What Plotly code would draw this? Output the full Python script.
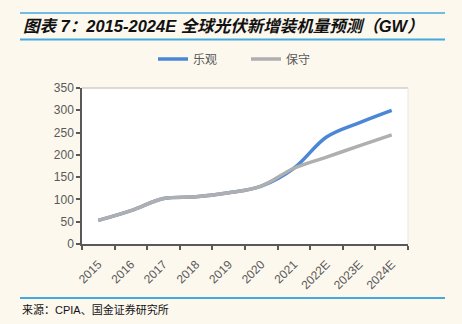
import plotly.graph_objects as go

years = ["2015", "2016", "2017", "2018", "2019", "2020", "2021", "2022E", "2023E", "2024E"]
optimistic = [53, 75, 102, 106, 115, 130, 170, 240, 272, 300]
conservative = [53, 75, 102, 106, 115, 130, 170, 195, 220, 245]

BG = "#FCF8EE"
AXIS = "#595959"
RULE = "#45A8DE"
FONT = "Liberation Sans, Noto Sans CJK SC, sans-serif"

fig = go.Figure()
fig.add_trace(go.Scatter(
    x=years, y=optimistic, name="乐观", mode="lines",
    line=dict(color="#4A87D6", width=3.5, shape="spline", smoothing=1.0),
))
fig.add_trace(go.Scatter(
    x=years, y=conservative, name="保守", mode="lines",
    line=dict(color="#AFAFAF", width=3.5, shape="spline", smoothing=1.0),
))

# plot-area pixel geometry (462x324 page)
L, R, T, B = 82, 408, 88, 244
W, H = R - L, B - T


def px(x):
    return (x - L) / W


def py(y):
    return (B - y) / H


shapes = [
    dict(type="line", xref="paper", yref="paper", x0=px(20), x1=px(445), y0=py(13), y1=py(13),
         line=dict(color=RULE, width=1.5)),
    dict(type="line", xref="paper", yref="paper", x0=px(20), x1=px(445), y0=py(39.5), y1=py(39.5),
         line=dict(color=RULE, width=2)),
    dict(type="line", xref="paper", yref="paper", x0=px(20), x1=px(445), y0=py(298), y1=py(298),
         line=dict(color=RULE, width=2)),
    dict(type="line", xref="paper", yref="paper", x0=0, x1=1, y0=1, y1=1,
         line=dict(color="#BDB8AE", width=1)),
    dict(type="line", xref="paper", yref="paper", x0=1, x1=1, y0=0, y1=1,
         line=dict(color="#E6E6E6", width=1)),
]

annotations = [
    dict(text="<b><i>图表 7：2015-2024E 全球光伏新增装机量预测（GW）</i></b>",
         xref="paper", yref="paper", x=px(21), y=py(26), xanchor="left", yanchor="middle",
         showarrow=False, font=dict(family=FONT, size=16.5, color="#111111")),
    dict(text="来源：CPIA、国金证券研究所",
         xref="paper", yref="paper", x=px(20), y=py(309), xanchor="left", yanchor="middle",
         showarrow=False, font=dict(family=FONT, size=11, color="#111111")),
]

fig.update_layout(
    width=462, height=324,
    margin=dict(l=L, r=462 - R, t=T, b=324 - B, pad=0),
    paper_bgcolor=BG, plot_bgcolor="#FFFFFF",
    font=dict(family=FONT, size=12, color=AXIS),
    showlegend=True,
    legend=dict(orientation="h", x=px(153), xanchor="left", y=py(59), yanchor="middle",
                bgcolor="rgba(0,0,0,0)", font=dict(size=12, color=AXIS),
                itemwidth=30, entrywidth=48, entrywidthmode="pixels"),
    shapes=shapes,
    annotations=annotations,
    xaxis=dict(
        type="category", tickangle=-45, showgrid=False, zeroline=False,
        showline=True, linecolor=AXIS, linewidth=1.5,
        ticks="outside", tickson="boundaries", ticklen=4, tickcolor=AXIS, tickwidth=1.5,
        tickfont=dict(size=12, color=AXIS), range=[-0.5, 9.5], ticklabelstandoff=7,
    ),
    yaxis=dict(
        range=[0, 350], dtick=50, showgrid=False, zeroline=False,
        showline=True, linecolor=AXIS, linewidth=1.5,
        ticks="outside", ticklen=4, tickcolor=AXIS, tickwidth=1.5,
        tickfont=dict(size=12, color=AXIS),
    ),
)

fig.write_html("out.html")
